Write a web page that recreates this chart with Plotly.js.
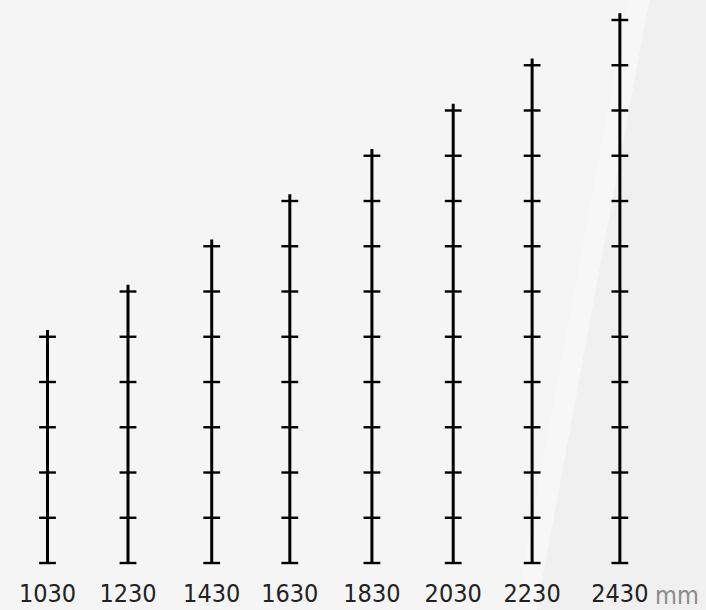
<!DOCTYPE html>
<html>
<head>
<meta charset="utf-8">
<script src="https://cdn.plot.ly/plotly-3.0.1.min.js"></script>
<style>html,body{margin:0;padding:0;background:#f4f4f4;}#chart{width:706px;height:610px;}</style>
</head>
<body>
<div id="chart"></div>
<script>
// Data
const heightsMM = [1030, 1230, 1430, 1630, 1830, 2030, 2230, 2430];
const tickLabels = ['1030', '1230', '1430', '1630', '1830', '2030', '2230', '2430'];
const positions = [0, 1, 2.04, 3.01, 4.03, 5.04, 6.02, 7.11];
const tickStepMM = 200;
const unitLabel = 'mm';

// Build traces
const lineX = [], lineY = [];
const markX = [], markY = [];
heightsMM.forEach((h, i) => {
  lineX.push(positions[i], positions[i], null);
  lineY.push(0, h, null);
  for (let v = 0; v <= h; v += tickStepMM) {
    markX.push(positions[i]);
    markY.push(v);
  }
});

const traces = [
  {
    type: 'scatter', mode: 'lines', x: lineX, y: lineY,
    line: {color: '#000', width: 3}, hoverinfo: 'skip', showlegend: false
  },
  {
    type: 'scatter', mode: 'markers', x: markX, y: markY,
    marker: {symbol: 'line-ew', size: 12, line: {color: '#000', width: 2.4}},
    hoverinfo: 'skip', showlegend: false
  }
];

const FONT = '"Liberation Sans Narrow", "DejaVu Sans Condensed", Roboto, sans-serif';

const layout = {
  width: 706, height: 610,
  margin: {l: 0, r: 0, t: 0, b: 40},
  paper_bgcolor: '#f5f5f5',
  plot_bgcolor: 'rgba(0,0,0,0)',
  showlegend: false,
  xaxis: {
    range: [-0.590, 8.180],
    tickmode: 'array', tickvals: positions, ticktext: tickLabels,
    showgrid: false, zeroline: false, showline: false, ticks: '',
    ticklabelstandoff: 6,
    tickfont: {family: FONT, size: 25, color: '#222'},
    fixedrange: true
  },
  yaxis: {
    range: [-30.9, 2488.4],
    showgrid: false, zeroline: false, showline: false,
    showticklabels: false, ticks: '', fixedrange: true
  },
  shapes: [
    {type: 'path', xref: 'paper', yref: 'paper', layer: 'below',
     path: 'M 0.93 1.07 L 1 1.07 L 1 -0.07 L 0.76 -0.07 Z',
     fillcolor: '#f0f0f0', line: {width: 0}},
    {type: 'path', xref: 'paper', yref: 'paper', layer: 'below',
     path: 'M 0.90 1.07 L 0.93 1.07 L 0.76 -0.07 L 0.73 -0.07 Z',
     fillcolor: '#f7f7f7', line: {width: 0}}
  ],
  annotations: [
    {xref: 'paper', yref: 'paper', x: 677/706, y: 0, yanchor: 'top', xanchor: 'center',
     yshift: -9,
     text: unitLabel, showarrow: false,
     font: {family: FONT, size: 25, color: '#8c8c8c'}}
  ]
};

Plotly.newPlot('chart', traces, layout, {displayModeBar: false, staticPlot: true});
</script>
</body>
</html>
